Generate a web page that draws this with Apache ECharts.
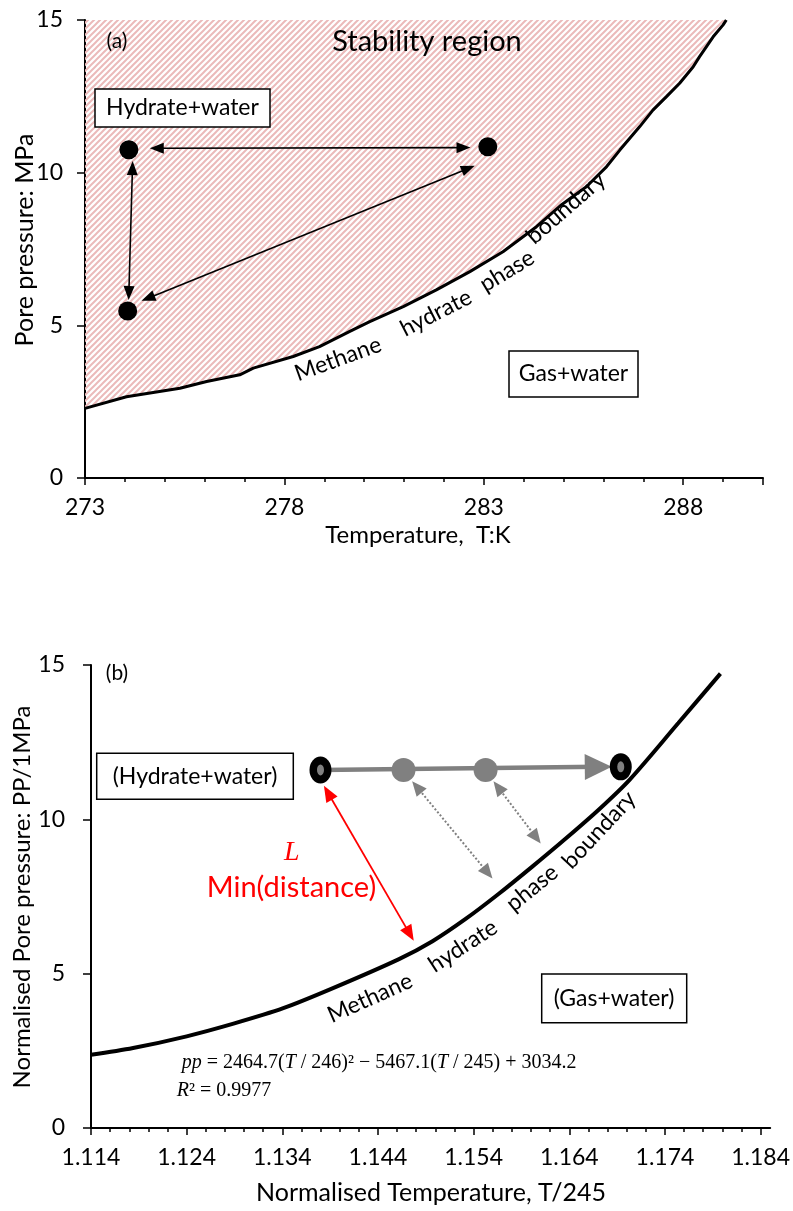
<!DOCTYPE html>
<html lang="en">
<head>
<meta charset="utf-8">
<title>Methane hydrate stability</title>
<script src="https://cdn.jsdelivr.net/npm/echarts@6/dist/echarts.min.js"></script>
<style>
    html, body { margin: 0; padding: 0; background: #fff; }
    #main { width: 793px; height: 1211px; }
</style>
</head>
<body>
<div id="main"></div>
<script>
// (a) phase boundary, temperature K vs pore pressure MPa
var tempA = [273, 274.04, 275.38, 276.05, 276.88, 277.22, 278.22, 278.88, 279.64, 280.14, 280.98, 281.81, 282.65, 283.48,
             284.32, 284.95, 285.57, 286.08, 286.41, 286.91, 287.24, 287.58, 287.91, 288.25, 288.41, 288.75, 289.0, 289.08];
var presA = [2.28, 2.66, 2.94, 3.16, 3.38, 3.60, 3.98, 4.30, 4.80, 5.12, 5.61, 6.16, 6.76, 7.41,
             8.23, 8.95, 9.54, 10.20, 10.74, 11.51, 12.05, 12.49, 12.93, 13.47, 13.80, 14.45, 14.84, 15.0];
var pointsA = [[274.1, 10.75], [283.1, 10.85], [274.07, 5.47]];
// arrow ends (centre of each arrow head)
var arrowsA = [
    [[274.80, 10.80], [282.49, 10.82]],
    [[274.19, 10.15], [274.10, 6.06]],
    [[282.61, 10.14], [274.58, 5.89]]
];
var xTicksA = [273, 278, 283, 288];

// (b) normalised boundary
var tempB = [1.114, 1.1184, 1.124, 1.1289, 1.1341, 1.1393, 1.1462, 1.1497, 1.1532, 1.1566, 1.1601, 1.1636, 1.1671, 1.1703, 1.1754, 1.1798];
var presB = [2.37, 2.59, 2.97, 3.38, 3.88, 4.53, 5.47, 6.05, 6.78, 7.58, 8.46, 9.37, 10.32, 11.28, 13.12, 14.72];
var greyPtsB = [[1.14667, 11.60], [1.15525, 11.60]];
var endPtsB = [[1.13799, 11.60], [1.16938, 11.70]];
var pathArrowB = [[1.13799, 11.60], [1.16703, 11.70]];
var dotArrowsB = [
    [[1.14807, 11.05], [1.15547, 8.27]],
    [[1.15655, 11.04], [1.16054, 9.41]]
];
var minArrowB = [[1.13877, 10.86], [1.14732, 6.29]];
var xTicksB = [1.114, 1.124, 1.134, 1.144, 1.154, 1.164, 1.174, 1.184];

var FONT = 'Lato';

function pairs(xs, ys) {
    return xs.map(function (x, i) { return [x, ys[i]]; });
}

// pink diagonal hatch
function hatch() {
    var c = document.createElement('canvas');
    c.width = 6; c.height = 6;
    var g = c.getContext('2d');
    g.strokeStyle = '#ebbaba';
    g.lineWidth = 2;
    g.beginPath();
    g.moveTo(0, 6); g.lineTo(6, 0);
    g.moveTo(-1, 1); g.lineTo(1, -1);
    g.moveTo(5, 7); g.lineTo(7, 5);
    g.stroke();
    return c;
}

function minorTicks(a, b, step) {
    var out = [];
    for (var v = a; v <= b + step / 10; v += step) out.push(Math.round(v * 1000) / 1000);
    return out;
}

function arrowLine(seg, color, width, type, size, both) {
    return [
        { coord: seg[0], symbol: both ? 'triangle' : 'none', symbolSize: size,
          lineStyle: { color: color, width: width, type: type } },
        { coord: seg[1], symbol: 'triangle', symbolSize: size }
    ];
}

function txt(str, x, y, size, rot, extra) {
    var st = { text: str, fill: '#000', fontFamily: FONT, fontSize: size, align: 'center', verticalAlign: 'middle' };
    for (var k in (extra || {})) st[k] = extra[k];
    return { type: 'text', x: x, y: y, rotation: (rot || 0) * Math.PI / 180, style: st, z: 100 };
}

function box(x, y, w, h) {
    return { type: 'rect', shape: { x: x, y: y, width: w, height: h },
             style: { fill: '#fff', stroke: '#000', lineWidth: 1.5 }, z: 99 };
}

var chart = echarts.init(document.getElementById('main'));

var axisLine = { lineStyle: { color: '#000', width: 2 } };
var tickLab = { color: '#000', fontFamily: FONT, fontSize: 23 };
var serif = { align: 'left', fontFamily: 'Liberation Serif',
              rich: { i: { fontStyle: 'italic', fontFamily: 'Liberation Serif', fontSize: 20 } } };

chart.setOption({
    animation: false,
    grid: [
        { left: 85, top: 20, width: 678, height: 458 },
        { left: 91, top: 665, width: 681, height: 463 }
    ],
    xAxis: [
        { gridIndex: 0, type: 'value', position: 'bottom', min: 273, max: 290, interval: 5, axisLine: axisLine,
          axisTick: { length: 7, lineStyle: { color: '#000', width: 1.5 } },
          axisLabel: Object.assign({ margin: 18, customValues: xTicksA }, tickLab),
          splitLine: { show: false } },
        { gridIndex: 0, type: 'value', position: 'bottom', min: 273, max: 290, interval: 1,
          axisLine: { show: false }, axisLabel: { show: false }, splitLine: { show: false },
          axisTick: { length: 4, lineStyle: { color: '#000', width: 1.5 } } },
        { gridIndex: 1, type: 'value', position: 'bottom', min: 1.114, max: 1.185, interval: 0.01, axisLine: axisLine,
          axisTick: { length: 7, customValues: xTicksB, lineStyle: { color: '#000', width: 1.5 } },
          axisLabel: Object.assign({ margin: 18, customValues: xTicksB,
              formatter: function (v) { return v.toFixed(3); } }, tickLab),
          splitLine: { show: false } },
        { gridIndex: 1, type: 'value', position: 'bottom', min: 1.114, max: 1.185, interval: 0.002,
          axisLine: { show: false }, axisLabel: { show: false }, splitLine: { show: false },
          axisTick: { length: 4, customValues: minorTicks(1.114, 1.184, 0.002), lineStyle: { color: '#000', width: 1.5 } } }
    ],
    yAxis: [
        { gridIndex: 0, type: 'value', min: 0, max: 15, interval: 5, axisLine: Object.assign({ show: true }, axisLine),
          axisTick: { show: true, length: 8, lineStyle: { color: '#000', width: 1.5 } },
          axisLabel: Object.assign({ margin: 22 }, tickLab), splitLine: { show: false } },
        { gridIndex: 1, type: 'value', min: 0, max: 15, interval: 5, axisLine: Object.assign({ show: true }, axisLine),
          axisTick: { show: true, length: 8, lineStyle: { color: '#000', width: 1.5 } },
          axisLabel: Object.assign({ margin: 26 }, tickLab), splitLine: { show: false } }
    ],
    series: [
        { type: 'line', xAxisIndex: 0, yAxisIndex: 0, data: pairs(tempA, presA), symbol: 'none',
          lineStyle: { color: '#000', width: 3 },
          areaStyle: { origin: 'end', opacity: 1, color: { image: hatch(), repeat: 'repeat' } }, z: 2 },
        { type: 'scatter', xAxisIndex: 0, yAxisIndex: 0, data: pointsA, symbolSize: 19,
          itemStyle: { color: '#000', opacity: 1 }, z: 5,
          markLine: { silent: true, label: { show: false }, z: 4,
              data: arrowsA.map(function (s) { return arrowLine(s, '#000', 1.6, 'solid', [11, 14], true); }) } },

        { type: 'line', xAxisIndex: 2, yAxisIndex: 1, data: pairs(tempB, presB), symbol: 'none', smooth: 0.3,
          lineStyle: { color: '#000', width: 4 }, z: 2 },
        { type: 'scatter', xAxisIndex: 2, yAxisIndex: 1, data: greyPtsB, symbolSize: 24,
          itemStyle: { color: '#808080', opacity: 1 }, z: 5,
          markLine: { silent: true, label: { show: false }, z: 3,
              data: [arrowLine(pathArrowB, '#808080', 4.5, 'solid', [26, 27], false)]
                  .concat(dotArrowsB.map(function (s) { return arrowLine(s, '#808080', 2, 'dotted', [13, 15], true); }))
                  .concat([arrowLine(minArrowB, '#ff0000', 1.8, 'solid', [13, 16], true)]) } },
        { type: 'scatter', xAxisIndex: 2, yAxisIndex: 1, data: endPtsB, symbolSize: [22, 27],
          itemStyle: { color: '#000', opacity: 1 }, z: 6 },
        { type: 'scatter', xAxisIndex: 2, yAxisIndex: 1, data: endPtsB, symbolSize: [7, 11],
          itemStyle: { color: '#808080', opacity: 1 }, z: 7 }
    ],
    graphic: [
        // (a)
        txt('(a)', 117, 41, 21),
        txt('Stability region', 427, 42, 29),
        box(95, 89, 175, 38), txt('Hydrate+water', 182.5, 108, 23),
        box(509, 351, 129, 46), txt('Gas+water', 573.5, 374, 23),
        txt('Methane', 338, 359, 23, 20),
        txt('hydrate', 436, 313, 23, 27),
        txt('phase', 507, 271, 23, 31),
        txt('boundary', 566, 208, 23, 41),
        txt('Pore pressure: MPa', 25, 240, 25, 90),
        txt('Temperature,  T:K', 418, 535, 24),

        // (b)
        txt('(b)', 117, 673, 21),
        box(96.7, 753.3, 196.6, 46), txt('(Hydrate+water)', 195, 776.3, 23),
        box(541.7, 974, 145, 48.7), txt('(Gas+water)', 614, 998.3, 23),
        txt('L', 291.7, 853, 28, 0, { fill: '#ff0000', fontFamily: 'Liberation Serif', fontStyle: 'italic' }),
        txt('Min(distance)', 291.5, 888, 29, 0, { fill: '#ff0000' }),
        txt('Methane', 370, 998, 23, 24),
        txt('hydrate', 463, 946, 23, 33),
        txt('phase', 532, 888, 23, 39),
        txt('boundary', 599, 830, 23, 47),
        txt('{i|pp} = 2464.7({i|T} / 246)\u00b2 \u2212 5467.1({i|T} / 245) + 3034.2', 181.7, 1062.7, 20, 0, serif),
        txt('{i|R}\u00b2 = 0.9977', 176.7, 1090.7, 20, 0, serif),
        txt('Normalised Pore pressure: PP/1MPa', 22, 897, 24, 90),
        txt('Normalised Temperature, T/245', 431, 1193, 25)
    ]
});
</script>
</body>
</html>
